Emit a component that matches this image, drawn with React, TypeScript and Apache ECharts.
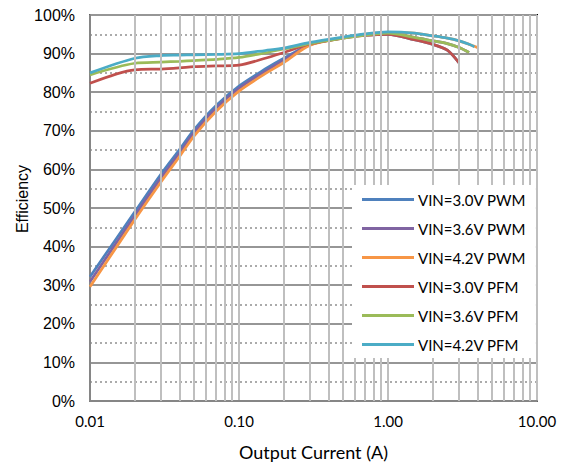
import React, { useEffect, useRef } from "react";
import * as echarts from "echarts";

// Output current (A) sample points
const current = [0.01, 0.02, 0.03, 0.04, 0.05, 0.07, 0.1, 0.15, 0.2, 0.3, 0.5, 0.7, 1.0, 1.5, 2.0, 2.5, 3.0, 3.5, 3.8, 4.0];

// Efficiency (%) per series, aligned with `current` (null = no measurement)
const vin30Pwm = [32.2, 49.0, 58.8, 65.2, 70.3, 76.5, 81.6, 86.0, 88.8, 92.3, 94.1, 94.8, 95.0, 93.6, 92.4, 90.9, 87.6, null, null, null];
const vin36Pwm = [30.9, 48.0, 57.8, 64.3, 69.5, 75.8, 81.0, 85.4, 88.3, 92.3, 94.1, 94.9, 95.3, 94.2, 93.3, 92.6, 91.6, 90.3, null, null];
const vin42Pwm = [29.6, 47.0, 56.8, 63.4, 68.7, 75.0, 80.3, 84.8, 87.7, 92.2, 94.1, 95.0, 95.5, 95.3, 94.6, 94.0, 93.3, 92.4, 91.9, 91.5];
const vin30Pfm = [82.3, 85.8, 86.0, 86.3, 86.6, 86.8, 87.0, 88.8, 90.3, 92.5, 94.0, 94.7, 95.0, 93.6, 92.4, 90.9, 87.6, null, null, null];
const vin36Pfm = [84.5, 87.5, 87.8, 88.0, 88.2, 88.5, 89.0, 90.2, 91.2, 92.6, 94.0, 94.8, 95.3, 94.2, 93.3, 92.6, 91.6, 90.3, null, null];
const vin42Pfm = [85.0, 88.8, 89.5, 89.6, 89.7, 89.8, 90.0, 90.8, 91.4, 92.9, 94.3, 95.1, 95.6, 95.3, 94.6, 94.0, 93.3, 92.4, 91.8, null];

const seriesNames = ["VIN=3.0V PWM", "VIN=3.6V PWM", "VIN=4.2V PWM", "VIN=3.0V PFM", "VIN=3.6V PFM", "VIN=4.2V PFM"];
const seriesValues = [vin30Pwm, vin36Pwm, vin42Pwm, vin30Pfm, vin36Pfm, vin42Pfm];
const seriesColors = ["#4F81BD", "#8064A2", "#F79646", "#C0504D", "#9BBB59", "#4BACC6"];

// Minor logarithmic grid positions (A)
const minorGridCurrents = [
  0.02, 0.03, 0.04, 0.05, 0.06, 0.07, 0.08, 0.09,
  0.2, 0.3, 0.4, 0.5, 0.6, 0.7, 0.8, 0.9,
  2, 3, 4, 5, 6, 7, 8, 9,
];

const yTicks = { min: 0, max: 100, interval: 10 };
const xRange = { min: 0.01, max: 10 };

export default function App() {
  const ref = useRef<HTMLDivElement>(null);

  useEffect(() => {
    if (!ref.current) return;
    const chart = echarts.init(ref.current, undefined, { renderer: "svg" });

    const dataSeries = seriesNames.map((name, i) => ({
      name,
      type: "line",
      z: 3,
      smooth: 0.3,
      showSymbol: false,
      symbol: "none",
      emphasis: { disabled: true },
      color: seriesColors[i],
      lineStyle: { color: seriesColors[i], width: 2.75 },
      data: current
        .map((c, k) => [c, seriesValues[i][k]])
        .filter((p) => p[1] !== null && p[1] !== undefined),
    }));

    const option: any = {
      animation: false,
      backgroundColor: "#ffffff",
      grid: {
        left: 90,
        top: 15,
        right: 29,
        bottom: 62,
        containLabel: false,
        outerBoundsMode: "none",
        show: true,
        borderColor: "#000000",
        borderWidth: 2,
        backgroundColor: "transparent",
      },
      legend: {
        data: seriesNames,
        orient: "vertical",
        left: 352,
        top: 185,
        z: 10,
        backgroundColor: "#ffffff",
        padding: [7, 10, 6, 10],
        icon: "rect",
        itemWidth: 52,
        itemHeight: 3,
        itemGap: 14,
        selectedMode: false,
        textStyle: {
          fontFamily: "Lato",
          fontSize: 15,
          color: "#000000",
          lineHeight: 14,
          padding: [0, 0, 0, -1],
        },
      },
      xAxis: {
        type: "log",
        logBase: 10,
        min: xRange.min,
        max: xRange.max,
        name: "Output Current (A)",
        nameLocation: "middle",
        nameGap: 41,
        nameMoveOverlap: false,
        nameTextStyle: { fontFamily: "Lato", fontSize: 18, color: "#000000", lineHeight: 20 },
        axisLine: { show: true, lineStyle: { color: "#868686", width: 2 } },
        axisTick: { show: false },
        axisLabel: {
          fontFamily: "Lato",
          fontSize: 15,
          color: "#000000",
          margin: 12,
          formatter: (v: number) => Number(v).toFixed(2),
        },
        splitLine: { show: true, lineStyle: { color: "#BFBFBF", width: 2 } },
      },
      yAxis: {
        type: "value",
        min: yTicks.min,
        max: yTicks.max,
        interval: yTicks.interval,
        name: "Efficiency",
        nameLocation: "middle",
        nameGap: 60,
        nameMoveOverlap: false,
        nameTextStyle: {
          fontFamily: "Liberation Sans",
          fontSize: 16,
          color: "#000000",
          padding: [0, 0, 0, 18],
        },
        axisLine: { show: true, lineStyle: { color: "#868686", width: 2 } },
        axisTick: { show: false },
        axisLabel: {
          fontFamily: "Liberation Sans",
          fontSize: 16,
          color: "#000000",
          margin: 15,
          formatter: "{value}%",
        },
        splitLine: { show: true, lineStyle: { color: "#969696", width: 2 } },
        minorTick: { show: false, splitNumber: 2 },
        minorSplitLine: { show: true, lineStyle: { color: "#ABABAB", width: 2, type: [2, 3] } },
      },
      series: [
        {
          name: "__grid",
          type: "line",
          z: 1,
          data: [],
          silent: true,
          markLine: {
            silent: true,
            symbol: ["none", "none"],
            label: { show: false },
            emphasis: { disabled: true },
            lineStyle: { color: "#BFBFBF", width: 2, type: "solid" },
            data: minorGridCurrents.map((v) => ({ xAxis: v })),
          },
        },
        ...dataSeries,
      ],
    };

    chart.setOption(option);
    return () => chart.dispose();
  }, []);

  return (
    <div
      ref={ref}
      style={{ position: "fixed", left: 0, top: 0, width: 566, height: 463 }}
    />
  );
}
